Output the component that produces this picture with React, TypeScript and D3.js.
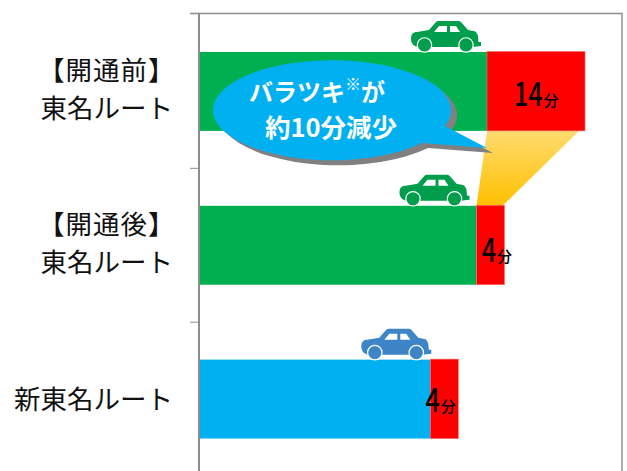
import React from "react";
import * as d3 from "d3";

const routes = ["before", "after", "shinTomei"];
const travelTimes = [41, 39.5, 32.9];
const spreads = [14, 4, 4];
const barColors = ["#00b050", "#00b050", "#00b0f0"];
const carColors = ["#009e4c", "#009e4c", "#3d85c6"];
const labelLines = [["【開通前】", "東名ルート"], ["【開通後】", "東名ルート"], ["新東名ルート"]];
const spreadUnit = "分";

const WIDTH = 627;
const HEIGHT = 471;
const CJK = "'Noto Sans CJK JP', sans-serif";
const AXIS = "#8c8c8c";

// Where each value label and car sits relative to its bar
const labelShiftX = [7, 6, -4];
const labelShiftY = [14.5, 16.5, 12.5];
const carLead = [76, 77, 69];

// Side-view car silhouette, drawn from its rear-bottom corner
const CAR_BODY =
  "M0,-14 C0,-19 2,-21 6,-21 L18,-23 L25,-31 C26,-32 27,-32 28,-32 L47,-32 C48,-32 49,-32 50,-31 L57,-23 L62,-22 C65,-22 66,-20 67,-17 L67.5,-11 L70,-11 L70,-7 L61,-6 L8,-6 C4,-6 0,-9 0,-14 Z";
const CAR_WINDOWS = "M23,-21 L28,-27 L36,-27 L36,-21 Z M39,-27 L45,-27 L49,-21 L39,-21 Z";
const WHEEL_X = [13.5, 55];

// Speech bubble centred on its ellipse, with the tail running down to the right
const BUBBLE = "M112,18 L154,40 L89,35 A119,50 0 1 1 112,18 Z";

function Car({ x, y, color, id }: { x: number; y: number; color: string; id: string }) {
  return (
    <g transform={`translate(${x},${y})`}>
      <path d={CAR_BODY} fill={color} />
      <path d={CAR_WINDOWS} fill="#fff" />
      {WHEEL_X.map((cx) => (
        <circle key={`${id}-${cx}`} cx={cx} cy={-8} r={7.2} fill={color} stroke="#fff" strokeWidth={1.2} />
      ))}
    </g>
  );
}

export default function App() {
  const x = d3.scaleLinear().domain([0, 1]).range([200, 207]);
  const y = d3.scaleBand().domain(routes).range([14.5, 476]).paddingInner(0.487).paddingOuter(0.2435);
  const rows = d3.scaleBand().domain(routes).range([14.5, 476]);
  const bw = y.bandwidth();

  const funnelTop = y("before")! + bw;
  const funnelBottom = y("after")!;
  const funnel =
    d3.line()([
      [x(travelTimes[0]), funnelTop],
      [x(travelTimes[0] + spreads[0]) - 6, funnelTop],
      [x(travelTimes[1] + spreads[1]) - 2, funnelBottom],
      [x(travelTimes[1]), funnelBottom],
    ])! + "Z";

  return (
    <svg
      width={WIDTH}
      height={HEIGHT}
      viewBox={`0 0 ${WIDTH} ${HEIGHT}`}
      style={{ position: "absolute", left: 0, top: 0, background: "#fff" }}
    >
      <defs>
        <linearGradient id="funnelFill" x1="0" y1="0" x2="0" y2="1">
          <stop offset="0" stopColor="#ffdb70" />
          <stop offset="1" stopColor="#ffc000" />
        </linearGradient>
      </defs>

      <path d={`M190,13.5 H622 V${HEIGHT}`} fill="none" stroke={AXIS} strokeWidth={1.4} />
      <line x1={199} x2={199} y1={14} y2={HEIGHT} stroke={AXIS} strokeWidth={2} />
      {routes.slice(0, 2).map((r) => (
        <line
          key={r}
          x1={190}
          x2={199}
          y1={rows(r)! + rows.bandwidth()}
          y2={rows(r)! + rows.bandwidth()}
          stroke={AXIS}
          strokeWidth={1}
        />
      ))}

      <path d={funnel} fill="url(#funnelFill)" />

      {routes.map((r, i) => (
        <g key={r}>
          <rect x={x(0)} y={y(r)} width={x(travelTimes[i]) - x(0)} height={bw} fill={barColors[i]} />
          <rect
            x={x(travelTimes[i])}
            y={y(r)! - 0.5}
            width={x(spreads[i]) - x(0)}
            height={bw + 0.5}
            fill="#ff0000"
            stroke="#ff6b6b"
            strokeWidth={0.6}
          />
          <Car id={r} x={x(travelTimes[i]) - carLead[i]} y={y(r)! + 1} color={carColors[i]} />
        </g>
      ))}

      {routes.map((r, i) => {
        const px = x(travelTimes[i] + spreads[i] / 2) + labelShiftX[i];
        const py = y(r)! + bw / 2 + labelShiftY[i];
        return (
          <g key={r} fill="#000" fontFamily={CJK} fontWeight={500}>
            <text transform={`translate(${px - 0.5},${py}) scale(0.76,1)`} textAnchor="end" fontSize={33}>
              {spreads[i]}
            </text>
            <text x={px + 0.5} y={py} fontSize={15}>
              {spreadUnit}
            </text>
          </g>
        );
      })}

      {routes.map((r, i) => {
        const cy = rows(r)! + rows.bandwidth() / 2;
        return labelLines[i].map((t, k) => {
          const bracketed = t.startsWith("【");
          return (
            <text
              key={t + k}
              x={bracketed ? 38 : 173}
              y={i === 2 ? cy + 9.5 : cy + (k === 0 ? -11.5 : 26.5)}
              textAnchor={bracketed ? "start" : "end"}
              letterSpacing={bracketed ? 1 : 0}
              fontFamily={CJK}
              fontSize={26.5}
              fill="#111"
            >
              {t}
            </text>
          );
        });
      })}

      <g transform="translate(333,108)">
        <path d={BUBBLE} transform="translate(6,5)" fill="#808080" />
        <path d={BUBBLE} fill="#00b0f0" />
        <text x={-84} y={-7} fontFamily={CJK} fontSize={24} fontWeight={700} fill="#fff">
          バラツキ
          <tspan fontSize={16} fontWeight={900} dy={-11}>※</tspan>
          <tspan dy={11}>が</tspan>
        </text>
        <text x={-68} y={29} fontFamily={CJK} fontSize={25.5} fontWeight={700} fill="#fff">
          約10分減少
        </text>
      </g>
    </svg>
  );
}
